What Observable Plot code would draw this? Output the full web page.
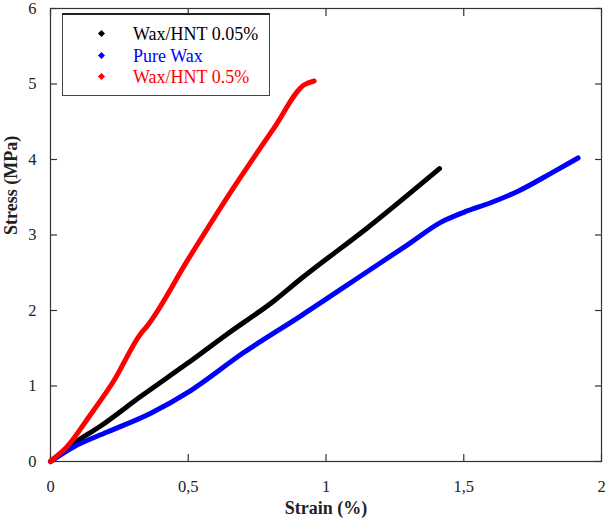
<!DOCTYPE html>
<html>
<head>
<meta charset="utf-8">
<script src="https://cdn.jsdelivr.net/npm/d3@7"></script>
<script src="https://cdn.jsdelivr.net/npm/@observablehq/plot@0.6"></script>
<style>
  body { margin: 0; background: #fff; }
  #wrap { position: relative; width: 606px; height: 525px; font-family: "Liberation Serif", "Times New Roman", Times, "DejaVu Serif", serif; }
  #wrap svg, #wrap svg text { font-family: "Liberation Serif", "Times New Roman", Times, "DejaVu Serif", serif !important; }
  #legend { position: absolute; left: 62px; top: 13px; width: 206px; height: 80px; border: 1px solid #444; border-top: 2px solid #222; background: #fff; }
  .row { position: absolute; left: 0; font-size: 18px; line-height: 20px; white-space: nowrap; font-family: "Liberation Serif", "Times New Roman", Times, serif; }
  .mk { position: absolute; left: 36px; top: 7px; width: 5px; height: 5px; transform: rotate(45deg); }
  .lbl { position: absolute; left: 70px; top: 0; }
</style>
</head>
<body>
<div id="wrap"></div>
<script>
// Series names and colours
const seriesNames = ["Wax/HNT 0.05%", "Pure Wax", "Wax/HNT 0.5%"];
const seriesColors = ["#000000", "#0000ff", "#ff0000"];

// Wax/HNT 0.05% (black)
const blackStrain = [0, 0.085, 0.182, 0.327, 0.497, 0.642, 0.812, 0.909, 1.152, 1.412];
const blackStress = [0, 0.24, 0.47, 0.86, 1.30, 1.69, 2.13, 2.42, 3.10, 3.88];

// Pure Wax (blue)
const blueStrain = [0, 0.085, 0.206, 0.364, 0.509, 0.70, 0.909, 1.152, 1.30, 1.418, 1.50, 1.60, 1.697, 1.818, 1.915];
const blueStress = [0, 0.195, 0.39, 0.64, 0.94, 1.44, 1.93, 2.52, 2.88, 3.17, 3.30, 3.43, 3.58, 3.82, 4.02];

// Wax/HNT 0.5% (red)
const redStrain = [0, 0.061, 0.145, 0.23, 0.327, 0.35, 0.50, 0.667, 0.812, 0.921, 0.957];
const redStress = [0, 0.2, 0.62, 1.07, 1.69, 1.79, 2.68, 3.64, 4.42, 4.99, 5.04];

// Ticks
const xTicks = [0, 0.5, 1, 1.5, 2];
const xTickLabels = ["0", "0,5", "1", "1,5", "2"];
const yTicks = [0, 1, 2, 3, 4, 5, 6];
const xLabel = "Strain (%)";
const yLabel = "Stress (MPa)";

const rows = [];
[[blackStrain, blackStress], [blueStrain, blueStress], [redStrain, redStress]].forEach(([xs, ys], i) => {
  xs.forEach((x, j) => rows.push({series: seriesNames[i], strain: x, stress: ys[j]}));
});

const fmtX = d => xTickLabels[xTicks.indexOf(d)] ?? "";
const tickColor = "#333";
const serif = "'Liberation Serif', 'Times New Roman', Times, serif";

const chart = Plot.plot({
  width: 606,
  height: 525,
  marginLeft: 50,
  marginRight: 5,
  marginTop: 8,
  marginBottom: 64,
  style: {fontFamily: serif, fontSize: "16.5px", color: "#222", background: "#fff"},
  x: {domain: [0, 2], ticks: xTicks},
  y: {domain: [0, 6], ticks: yTicks},
  color: {domain: seriesNames, range: seriesColors},
  marks: [
    Plot.frame({stroke: tickColor, strokeWidth: 1.2}),
    Plot.axisX(xTicks, {anchor: "bottom", tickSize: -7, tickPadding: 26, tickFormat: fmtX, label: null, stroke: tickColor, strokeWidth: 1.2, fill: "#222", fontFamily: serif}),
    Plot.axisX(xTicks, {anchor: "top", tickSize: -7, tickFormat: () => "", label: null, stroke: tickColor, strokeWidth: 1.2}),
    Plot.axisY(yTicks, {anchor: "left", tickSize: -7, tickPadding: 21, tickFormat: d => String(d), label: null, stroke: tickColor, strokeWidth: 1.2, fill: "#222", fontFamily: serif}),
    Plot.axisY(yTicks, {anchor: "right", tickSize: -7, tickFormat: () => "", label: null, stroke: tickColor, strokeWidth: 1.2}),
    Plot.line(rows, {x: "strain", y: "stress", z: "series", stroke: "series", strokeWidth: 5, strokeLinecap: "round", strokeLinejoin: "round", curve: "monotone-x"}),
    Plot.text([xLabel], {frameAnchor: "bottom", dy: 52, text: d => d, fontWeight: "bold", fontSize: 18, fill: "#222", fontFamily: serif}),
    Plot.text([yLabel], {frameAnchor: "left", dx: -39, rotate: -90, text: d => d, fontWeight: "bold", fontSize: 18, fill: "#222", fontFamily: serif})
  ]
});

const wrap = document.getElementById("wrap");
wrap.appendChild(chart);

const legend = document.createElement("div");
legend.id = "legend";
seriesNames.forEach((name, i) => {
  const row = document.createElement("div");
  row.className = "row";
  row.style.top = (9 + i * 21.5) + "px";
  const mk = document.createElement("span");
  mk.className = "mk";
  mk.style.background = seriesColors[i];
  const lbl = document.createElement("span");
  lbl.className = "lbl";
  lbl.style.color = seriesColors[i];
  lbl.textContent = name;
  row.appendChild(mk);
  row.appendChild(lbl);
  legend.appendChild(row);
});
wrap.appendChild(legend);
</script>
</body>
</html>
